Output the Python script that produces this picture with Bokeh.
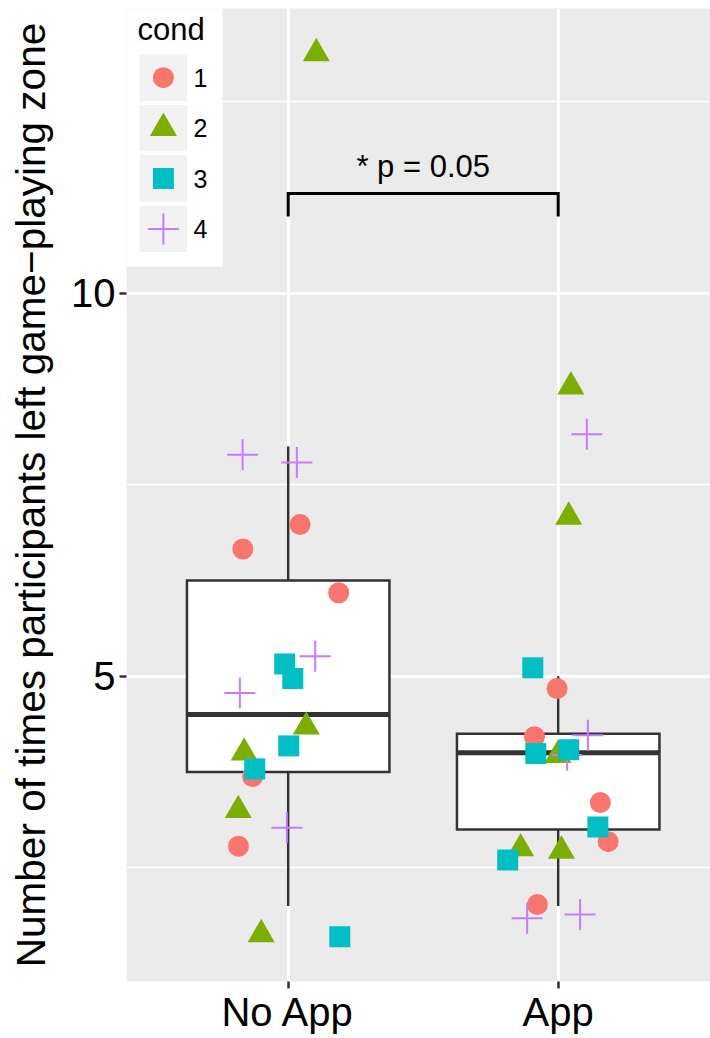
from bokeh.plotting import figure
from bokeh.models import Range1d, FixedTicker
from bokeh.core.properties import value
from bokeh.embed import file_html
from bokeh.resources import INLINE

# ---------------- data ----------------
groups = ["No App", "App"]
group_pos = [1, 2]
y_ticks = [5, 10]
y_minor = [2.5, 7.5, 12.5]

# boxplot statistics per group
box_lower = [2.0, 2.0]
box_q1 = [3.75, 3.0]
box_median = [4.5, 4.0]
box_q3 = [6.25, 4.25]
box_upper = [8.0, 5.0]

conds = ["1", "2", "3", "4"]

# jittered points (x = group position + jitter), per condition
cond1_x = [1.044, 0.832, 1.187, 0.868, 0.816, 1.996, 1.912, 2.156, 2.185, 1.923]
cond1_y = [6.98, 6.66, 6.09, 3.69, 2.78, 4.84, 4.21, 3.35, 2.84, 2.02]
cond2_x = [1.104, 1.067, 0.837, 0.815, 0.900, 2.047, 2.039, 1.999, 1.861, 2.012]
cond2_y = [13.13, 4.34, 4.00, 3.25, 1.63, 8.78, 7.08, 3.97, 2.75, 2.72]
cond3_x = [0.987, 1.017, 1.002, 0.876, 1.191, 1.906, 1.917, 2.039, 2.147, 1.813]
cond3_y = [5.16, 4.97, 4.09, 3.79, 1.60, 5.11, 3.99, 4.04, 3.03, 2.60]
cond4_x = [0.831, 1.032, 1.100, 0.821, 0.995, 2.106, 2.110, 2.033, 1.885, 2.081]
cond4_y = [7.89, 7.79, 5.26, 4.78, 3.02, 8.16, 4.23, 3.97, 1.84, 1.89]

sig_groups = [1, 2]
sig_label = "* p = 0.05"
sig_y = 11.3
sig_tip = 11.0

y_label = "Number of times participants left game\u2212playing zone"
legend_title = "cond"

# ---------------- style ----------------
FONT = "Liberation Sans"
COLORS = ["#F8766D", "#7CAE00", "#00BFC4", "#C77CFF"]
GREY20 = "#333333"
FRAME_W, FRAME_H = 584, 973

p = figure(width=710, height=1038,
           x_range=Range1d(0.4011, 2.5641), y_range=Range1d(1.0144, 13.7167),
           output_backend="svg", toolbar_location=None,
           min_border_left=126, min_border_right=0,
           min_border_top=8, min_border_bottom=57)
p.background_fill_color = "#EBEBEB"
p.border_fill_color = "white"
p.outline_line_color = None

# grids
p.xgrid.ticker = FixedTicker(ticks=group_pos)
p.xgrid.grid_line_color = "white"
p.xgrid.grid_line_width = 3
p.ygrid.ticker = FixedTicker(ticks=y_ticks, minor_ticks=y_minor)
p.ygrid.grid_line_color = "white"
p.ygrid.grid_line_width = 3
p.ygrid.minor_grid_line_color = "white"
p.ygrid.minor_grid_line_width = 1.5

# axes
p.xaxis.ticker = FixedTicker(ticks=group_pos)
p.xaxis.major_label_overrides = {k: v for k, v in zip(group_pos, groups)}
p.yaxis.ticker = FixedTicker(ticks=y_ticks, minor_ticks=y_minor)
for ax in (p.xaxis[0], p.yaxis[0]):
    ax.axis_line_color = None
    ax.major_tick_line_color = GREY20
    ax.major_tick_line_width = 2.5
    ax.major_tick_in = 0
    ax.major_tick_out = 7
    ax.minor_tick_line_color = None
    ax.major_label_text_font = FONT
    ax.major_label_text_font_size = "40px"
    ax.major_label_text_color = "black"
p.xaxis.major_label_standoff = 1
p.yaxis.major_label_standoff = 4
p.yaxis.axis_label = y_label
p.yaxis.axis_label_text_font = FONT
p.yaxis.axis_label_text_font_size = "40.5px"
p.yaxis.axis_label_text_font_style = "normal"
p.yaxis.axis_label_text_color = "black"
p.yaxis.axis_label_standoff = 14

# boxplots
half = 0.375
box_left = [g - half for g in group_pos]
box_right = [g + half for g in group_pos]
p.segment(x0=group_pos, y0=box_q3, x1=group_pos, y1=box_upper,
          line_color=GREY20, line_width=2.5)
p.segment(x0=group_pos, y0=box_lower, x1=group_pos, y1=box_q1,
          line_color=GREY20, line_width=2.5)
p.quad(left=box_left, right=box_right, bottom=box_q1, top=box_q3,
       fill_color="white", line_color=GREY20, line_width=2.5, line_join="miter")
p.segment(x0=box_left, y0=box_median, x1=box_right, y1=box_median,
          line_color=GREY20, line_width=5)

# points
p.scatter(cond1_x, cond1_y, marker="circle", size=21, fill_color=COLORS[0], line_color=None)
p.scatter(cond2_x, cond2_y, marker="triangle", size=27, fill_color=COLORS[1], line_color=None)
p.scatter(cond4_x, cond4_y, marker="cross", size=31, line_color=COLORS[3], line_width=2)
p.scatter(cond3_x, cond3_y, marker="square", size=21, fill_color=COLORS[2], line_color=None)

# significance bracket
p.line(x=[sig_groups[0], sig_groups[0], sig_groups[1], sig_groups[1]],
       y=[sig_tip, sig_y, sig_y, sig_tip], line_color="black", line_width=3,
       line_join="miter")
p.text(x=[sum(sig_groups) / 2], y=[sig_y + 0.354], text=[sig_label],
       text_align="center", text_baseline="middle",
       text_font=value(FONT), text_font_size="31px", text_color="black")

# legend drawn in pixel coordinates of the frame (y downward)
p.extra_x_ranges = {"px": Range1d(0, FRAME_W)}
p.extra_y_ranges = {"py": Range1d(FRAME_H, 0)}
pk = dict(x_range_name="px", y_range_name="py")
p.quad(left=[-5], right=[96], top=[-8], bottom=[258], fill_color="white",
       line_color=None, **pk)
key_cy = [69.2 + 50.4 * i for i in range(len(conds))]
key_cx = 36.9
p.quad(left=[key_cx - 23.8] * 4, right=[key_cx + 23.8] * 4,
       top=[c - 23.2 for c in key_cy], bottom=[c + 23.2 for c in key_cy],
       fill_color="#F2F2F2", line_color=None, **pk)
p.scatter([key_cx], [key_cy[0]], marker="circle", size=21, fill_color=COLORS[0], line_color=None, **pk)
p.scatter([key_cx], [key_cy[1]], marker="triangle", size=27, fill_color=COLORS[1], line_color=None, **pk)
p.scatter([key_cx], [key_cy[2]], marker="square", size=21, fill_color=COLORS[2], line_color=None, **pk)
p.scatter([key_cx], [key_cy[3]], marker="cross", size=31, line_color=COLORS[3], line_width=2, **pk)
p.text(x=[67] * 4, y=key_cy, text=conds, text_align="left",
       text_baseline="middle", text_font=value(FONT), text_font_size="25px",
       text_color="black", **pk)
p.text(x=[11], y=[20.6], text=[legend_title], text_align="left",
       text_baseline="middle", text_font=value(FONT), text_font_size="31px",
       text_color="black", **pk)

open("out.html", "w").write(file_html(p, INLINE))
